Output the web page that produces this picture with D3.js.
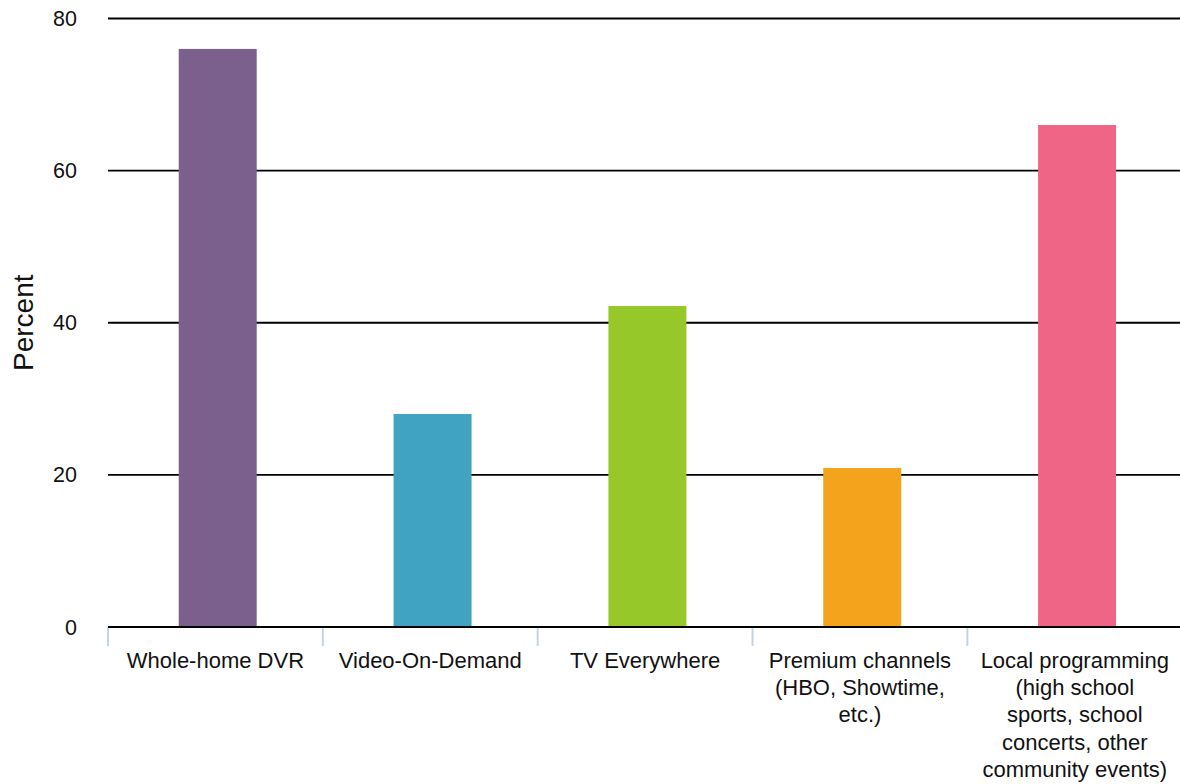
<!DOCTYPE html>
<html>
<head>
<meta charset="utf-8">
<script src="https://cdn.jsdelivr.net/npm/d3@7"></script>
<style>
  html, body { margin: 0; padding: 0; background: #fff; }
  svg { display: block; font-family: "Liberation Sans", Arial, sans-serif; }
</style>
</head>
<body>
<svg id="chart" width="1180" height="784"></svg>
<script>
// Services and share of respondents (percent)
const categories = [
  "Whole-home DVR",
  "Video-On-Demand",
  "TV Everywhere",
  "Premium channels\n(HBO, Showtime,\netc.)",
  "Local programming\n(high school\nsports, school\nconcerts, other\ncommunity events)"
];
const values = [76, 28, 42.2, 20.9, 66];
const barColors = ["#7b608e", "#41a3c2", "#97c82a", "#f4a41c", "#ef6586"];
const yTicks = [0, 20, 40, 60, 80];
const yTitle = "Percent";

(function draw() {
  const svg = d3.select("#chart");
  const plotLeft = 108, plotRight = 1182, plotTop = 18.5, plotBottom = 627;

  // Bars sit slightly right of their band centres
  const x = d3.scaleBand().domain(categories).range([plotLeft + 2.4, plotRight + 2.4])
    .paddingInner(0.637).paddingOuter(0.318);
  const y = d3.scaleLinear().domain([0, 80]).range([plotBottom, plotTop]);

  // Horizontal gridlines
  svg.append("g").selectAll("line")
    .data(yTicks.filter(d => d !== 0))
    .join("line")
    .attr("x1", plotLeft).attr("x2", 1180)
    .attr("y1", d => y(d)).attr("y2", d => y(d))
    .attr("stroke", "#000").attr("stroke-width", 1.8);

  // Y tick labels
  svg.append("g").selectAll("text")
    .data(yTicks)
    .join("text")
    .attr("x", 77).attr("y", d => y(d))
    .attr("dy", "0.35em")
    .attr("text-anchor", "end")
    .attr("font-size", 21.5)
    .attr("fill", "#111")
    .text(d => d);

  // Y axis title
  svg.append("text")
    .attr("transform", `translate(33,${(plotTop + plotBottom) / 2}) rotate(-90)`)
    .attr("text-anchor", "middle")
    .attr("font-size", 28)
    .attr("fill", "#111")
    .text(yTitle);

  // Bars
  svg.append("g").selectAll("rect")
    .data(categories)
    .join("rect")
    .attr("x", d => x(d))
    .attr("width", x.bandwidth())
    .attr("y", (d, i) => y(values[i]))
    .attr("height", (d, i) => y(0) - y(values[i]))
    .attr("fill", (d, i) => barColors[i]);

  // Category separator ticks
  const step = x.step();
  const bounds = d3.range(categories.length).map(i => plotLeft + i * step);
  svg.append("g").selectAll("line")
    .data(bounds)
    .join("line")
    .attr("x1", d => d).attr("x2", d => d)
    .attr("y1", plotBottom).attr("y2", plotBottom + 19)
    .attr("stroke", "#c3d3e6").attr("stroke-width", 2);

  // Baseline
  svg.append("line")
    .attr("x1", plotLeft).attr("x2", 1180)
    .attr("y1", y(0)).attr("y2", y(0))
    .attr("stroke", "#000").attr("stroke-width", 2);

  // Category labels
  const labels = svg.append("g").selectAll("text")
    .data(categories)
    .join("text")
    .attr("x", (d, i) => plotLeft + i * step + step / 2)
    .attr("y", 668)
    .attr("text-anchor", "middle")
    .attr("font-size", 22)
    .attr("fill", "#111");
  labels.each(function(d) {
    const t = d3.select(this);
    d.split("\n").forEach((line, i) => {
      t.append("tspan")
        .attr("x", t.attr("x"))
        .attr("dy", i === 0 ? 0 : 27.2)
        .text(line);
    });
  });
})();
</script>
</body>
</html>
